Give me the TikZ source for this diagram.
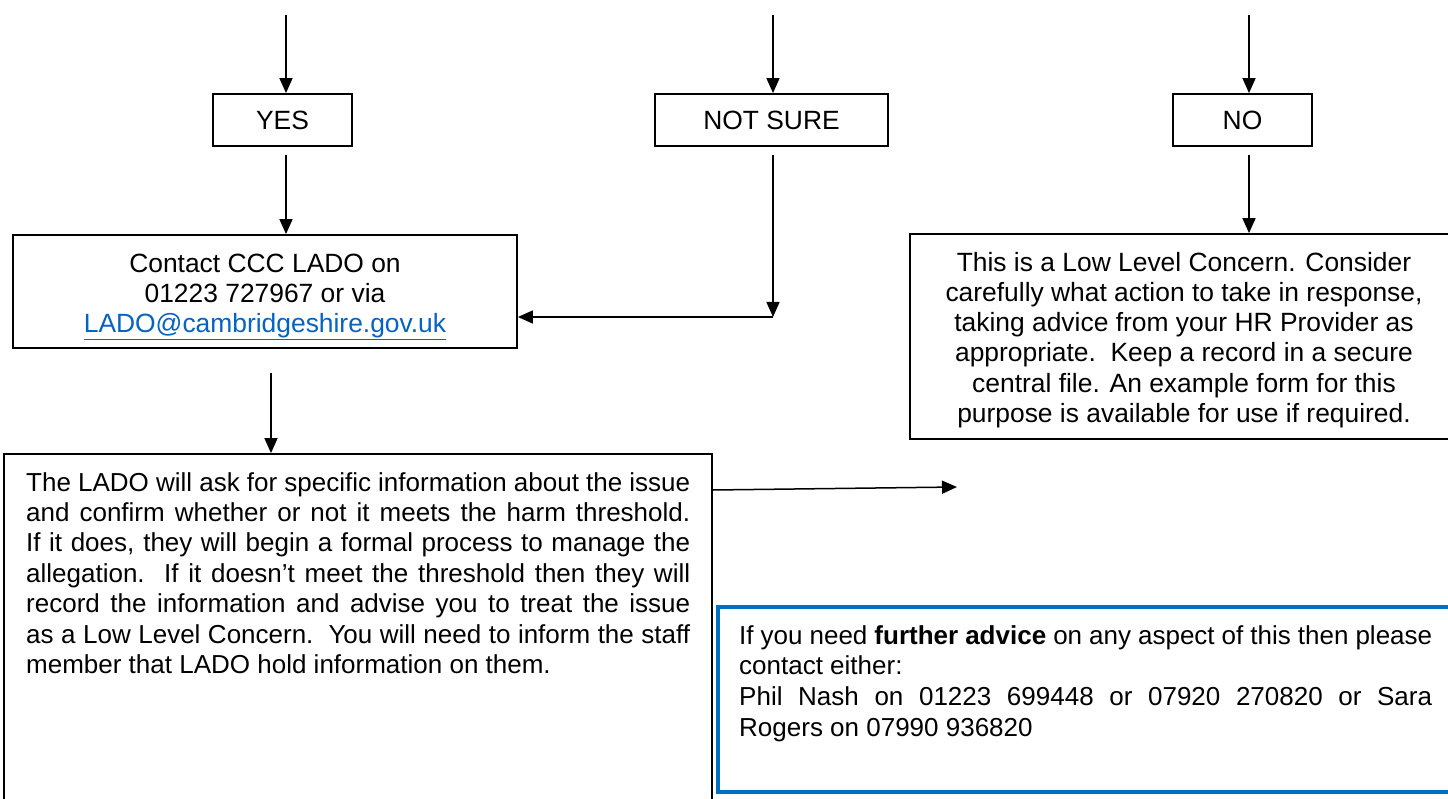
\documentclass[tikz,border=0pt]{standalone}
\usepackage{fontspec}
\setmainfont{Liberation Sans}
\usetikzlibrary{arrows.meta}
\definecolor{linkblue}{HTML}{0563C1}
\definecolor{boxblue}{HTML}{0070C0}
\newcommand\fsz{\fontsize{26pt}{30.4pt}\selectfont}
\newcommand\fbig{\fontsize{26.4pt}{30pt}\selectfont}
\newcommand\jl[2]{\makebox[#1][s]{\spaceskip=0pt\xspaceskip=0pt #2}\\}
\begin{document}
\begin{tikzpicture}[x=1pt,y=-1pt,
  box/.style={draw=black, line width=1.8pt, inner sep=0pt, align=center, font=\fbig},
  bluebox/.style={draw=boxblue, line width=3.5pt, inner sep=0pt},
  ctxt/.style={inner sep=0pt, align=center, font=\fbig},
  txt/.style={inner sep=0pt, anchor=north west, align=left, font=\fsz},
  arr/.style={line width=1.5pt, -{Triangle[length=15pt,width=13pt]}}]
\clip (0,0) rectangle (1448,799);
\fill[white] (0,0) rectangle (1448,799);

% answer boxes
\node[box, minimum width=139pt, minimum height=52pt] (yes) at (282.5,120) {\raisebox{-1.5pt}{YES}};
\node[box, minimum width=233pt, minimum height=52pt] (ns) at (771.5,120) {\raisebox{-1.5pt}{NOT SURE}};
\node[box, minimum width=139pt, minimum height=52pt] (no) at (1242.5,120) {\raisebox{-1.5pt}{NO}};

% contact box
\node[box, minimum width=504pt, minimum height=113pt] (contact) at (265,291.5) {};
\node[ctxt] (contacttext) at (265,297)
  {Contact CCC LADO on\\01223 727967 or via\\\textcolor{linkblue}{\underline{LADO@cambridgeshire.gov.uk}}};

% low level concern box
\node[box, minimum width=548pt, minimum height=205pt] (low) at (1184,336.5) {};
\node[ctxt, font=\fontsize{26.4pt}{30.2pt}\selectfont] (lowtext) at (1184,340)
  {This is a Low Level Concern. Consider\\carefully what action to take in response,\\taking advice from your HR Provider as\\appropriate.\ \ Keep a record in a secure\\central file. An example form for this\\purpose is available for use if required.};

% LADO box
\node[box, minimum width=708pt, minimum height=380pt] (lado) at (358,644) {};
\node[txt, text width=664pt] (ladotext) at (26,472)
  {\spaceskip=0pt\xspaceskip=0pt
   \jl{664pt}{The LADO will ask for specific information about the issue}%
   \jl{664pt}{and confirm whether or not it meets the harm threshold.}%
   \jl{664pt}{If it does, they will begin a formal process to manage the}%
   \jl{664pt}{allegation.\ \ If it doesn’t meet the threshold then they will}%
   \jl{664pt}{record the information and advise you to treat the issue}%
   \jl{664pt}{as a Low Level Concern.\ \ You will need to inform the staff}%
   member that LADO hold information on them.};

% further advice box
\node[bluebox, minimum width=737pt, minimum height=185pt] (blue) at (1086.5,699.5) {};
\node[txt, text width=693pt, font=\fontsize{26pt}{30.7pt}\selectfont] (bluetext) at (739,625)
  {\spaceskip=0pt\xspaceskip=0pt
   \jl{693pt}{If you need \textbf{further advice} on any aspect of this then please}%
   contact either:\\
   \jl{693pt}{Phil Nash on 01223 699448 or 07920 270820 or Sara}%
   Rogers on 07990 936820};

% incoming arrows
\coordinate (y0) at (286,15);
\coordinate (n0) at (773,15);
\coordinate (o0) at (1249,15);
\draw[arr] (y0) -- (y0 |- yes.north);
\draw[arr] (n0) -- (n0 |- ns.north);
\draw[arr] (o0) -- (o0 |- no.north);

% answer arrows
\coordinate (y1) at (286,155);
\coordinate (n1) at (773,155);
\coordinate (nc) at (773,317);
\coordinate (o1) at (1249,155);
\draw[arr] (y1) -- (y1 |- contact.north);
\draw[arr] (n1) -- (nc);
\draw[arr] (nc) -- (contact.east |- nc);
\draw[arr] (o1) -- (o1 |- low.north);

% contact to LADO
\coordinate (c1) at (271,373);
\draw[arr] (c1) -- (c1 |- lado.north);

% LADO outgoing arrow
\coordinate (lr) at (0,490);
\coordinate (le) at (957,487);
\draw[arr] (lado.east |- lr) -- (le);
\end{tikzpicture}
\end{document}
